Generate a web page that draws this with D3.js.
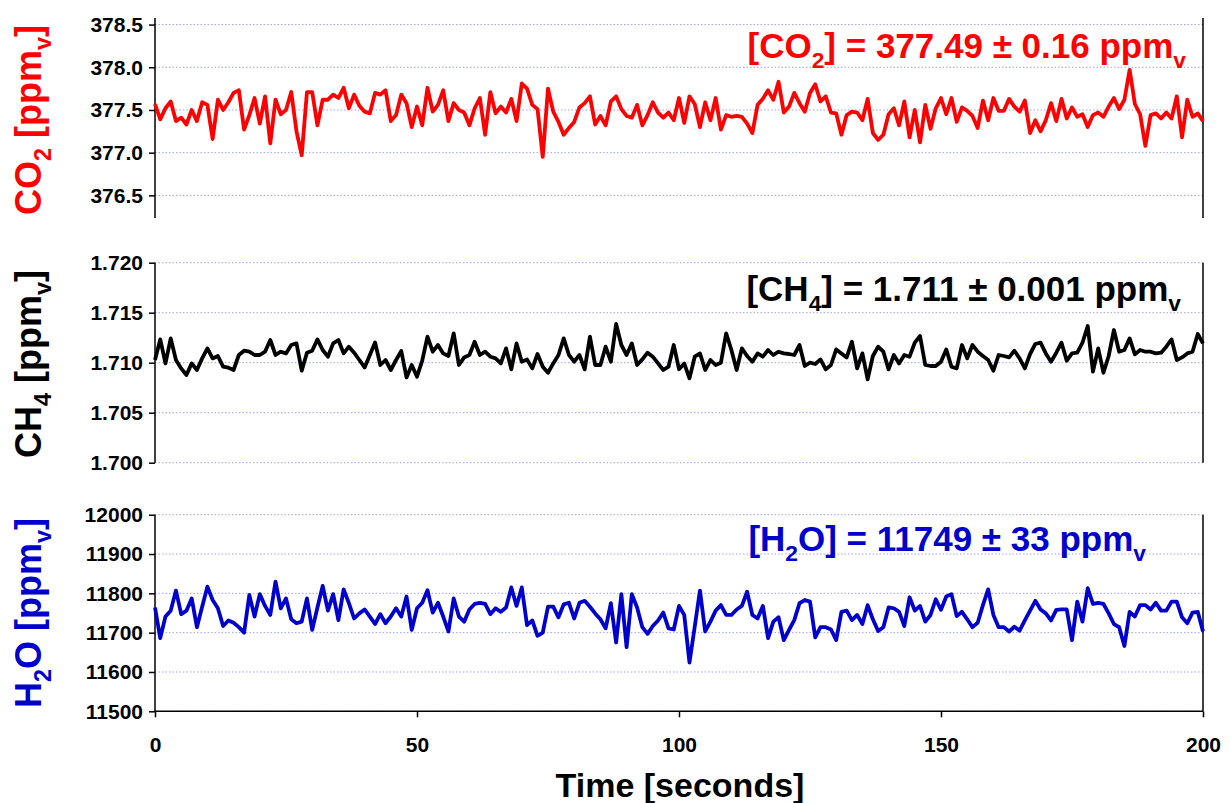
<!DOCTYPE html>
<html><head><meta charset="utf-8">
<script src="https://cdn.jsdelivr.net/npm/d3@7"></script>
<style>body{margin:0;background:#fff}svg{display:block}text{font-family:"Liberation Sans",Arial,sans-serif;font-weight:bold}</style>
</head><body><svg id="c" width="1230" height="803"></svg>
<script>
const time = d3.range(0, 201);
const co2 = [377.57,377.39,377.52,377.60,377.37,377.41,377.33,377.50,377.37,377.59,377.56,377.16,377.62,377.50,377.59,377.70,377.73,377.27,377.44,377.64,377.34,377.66,377.11,377.62,377.45,377.50,377.71,377.25,376.97,377.71,377.71,377.32,377.62,377.62,377.68,377.64,377.76,377.52,377.68,377.55,377.48,377.46,377.70,377.68,377.73,377.37,377.44,377.68,377.58,377.30,377.54,377.32,377.76,377.48,377.56,377.73,377.37,377.58,377.50,377.47,377.32,377.52,377.64,377.21,377.71,377.46,377.54,377.47,377.63,377.37,377.81,377.75,377.56,377.51,376.95,377.75,377.48,377.36,377.21,377.29,377.36,377.53,377.58,377.66,377.33,377.43,377.32,377.60,377.66,377.51,377.43,377.41,377.56,377.32,377.44,377.59,377.47,377.41,377.47,377.38,377.64,377.35,377.66,377.57,377.30,377.59,377.38,377.64,377.27,377.44,377.42,377.43,377.42,377.34,377.23,377.56,377.63,377.73,377.62,377.83,377.47,377.54,377.70,377.58,377.48,377.70,377.80,377.60,377.66,377.47,377.46,377.21,377.44,377.48,377.47,377.38,377.63,377.23,377.15,377.21,377.45,377.52,377.32,377.60,377.18,377.50,377.12,377.56,377.28,377.52,377.64,377.45,377.64,377.36,377.53,377.49,377.43,377.29,377.61,377.38,377.64,377.49,377.49,377.63,377.54,377.48,377.61,377.23,377.38,377.25,377.38,377.58,377.37,377.63,377.40,377.53,377.42,377.45,377.30,377.44,377.47,377.42,377.54,377.64,377.51,377.62,377.97,377.57,377.45,377.08,377.44,377.46,377.40,377.47,377.40,377.66,377.18,377.62,377.42,377.46,377.37];
const ch4 = [1.71027,1.71233,1.70993,1.71243,1.71027,1.70943,1.70877,1.70993,1.70927,1.71043,1.71143,1.71043,1.71067,1.70960,1.70950,1.70927,1.71077,1.71120,1.71110,1.71077,1.71077,1.71110,1.71227,1.71077,1.71110,1.71093,1.71177,1.71193,1.70920,1.71100,1.71120,1.71233,1.71127,1.71060,1.71193,1.71227,1.71093,1.71160,1.71100,1.71027,1.70953,1.71077,1.71203,1.70977,1.71027,1.70927,1.71027,1.71117,1.70853,1.70977,1.70860,1.71020,1.71260,1.71110,1.71177,1.71093,1.71067,1.71293,1.70977,1.71053,1.71077,1.71210,1.71077,1.71110,1.71060,1.71043,1.70993,1.71143,1.70933,1.71193,1.71010,1.71033,1.70943,1.71087,1.70960,1.70900,1.70993,1.71077,1.71243,1.71077,1.71010,1.71077,1.70933,1.71260,1.70977,1.70977,1.71160,1.71010,1.71387,1.71177,1.71077,1.71193,1.70977,1.71033,1.71100,1.71060,1.70993,1.70927,1.70960,1.71177,1.70935,1.70993,1.70843,1.71060,1.71093,1.70927,1.71027,1.70977,1.71000,1.71293,1.71127,1.70927,1.71143,1.71067,1.71010,1.71093,1.71060,1.71127,1.71077,1.71110,1.71093,1.71087,1.71077,1.71177,1.70967,1.71000,1.70987,1.71033,1.70933,1.70977,1.71133,1.71093,1.71053,1.71210,1.70943,1.71093,1.70833,1.71067,1.71160,1.71110,1.70933,1.71077,1.70993,1.71077,1.71060,1.71200,1.71267,1.70977,1.70967,1.70967,1.71010,1.71133,1.70960,1.70943,1.71177,1.71043,1.71177,1.71110,1.71067,1.71027,1.70920,1.71077,1.71067,1.71053,1.71120,1.71043,1.70943,1.71087,1.71187,1.71200,1.71093,1.71010,1.71100,1.71200,1.71020,1.71093,1.71100,1.71200,1.71367,1.70910,1.71143,1.70900,1.71067,1.71327,1.71110,1.71127,1.71243,1.71083,1.71127,1.71110,1.71110,1.71093,1.71100,1.71160,1.71233,1.71027,1.71053,1.71093,1.71110,1.71287,1.71193];
const h2o = [11764,11686,11741,11756,11807,11747,11756,11787,11714,11766,11817,11783,11762,11717,11731,11725,11714,11700,11796,11741,11798,11768,11745,11830,11762,11787,11734,11724,11728,11787,11707,11764,11819,11756,11798,11732,11810,11775,11736,11749,11759,11741,11722,11747,11724,11741,11762,11741,11792,11707,11762,11776,11808,11751,11776,11741,11703,11787,11741,11728,11759,11773,11776,11773,11747,11762,11753,11764,11815,11768,11815,11719,11731,11692,11700,11766,11766,11739,11772,11776,11736,11776,11781,11766,11749,11734,11711,11775,11675,11798,11663,11798,11764,11714,11697,11717,11731,11751,11711,11708,11768,11745,11624,11715,11807,11703,11728,11756,11770,11745,11745,11759,11768,11804,11745,11736,11768,11686,11728,11739,11681,11707,11732,11775,11783,11779,11688,11714,11714,11708,11681,11753,11756,11732,11745,11722,11770,11734,11704,11714,11764,11762,11753,11717,11790,11756,11768,11728,11745,11785,11758,11792,11798,11742,11753,11734,11714,11725,11770,11810,11745,11714,11714,11703,11715,11705,11731,11756,11781,11759,11749,11731,11758,11759,11759,11681,11779,11728,11813,11773,11776,11773,11749,11722,11714,11666,11753,11741,11770,11770,11759,11776,11756,11756,11779,11779,11739,11724,11751,11753,11703];

const xTicks = [0, 50, 100, 150, 200];
const co2Ticks = [376.5, 377.0, 377.5, 378.0, 378.5];
const ch4Ticks = [1.700, 1.705, 1.710, 1.715, 1.720];
const h2oTicks = [11500, 11600, 11700, 11800, 11900, 12000];

const svg = d3.select("#c");
const x = d3.scaleLinear().domain([0, 200]).range([155, 1203]);
const FONT = '"Liberation Sans",Arial,sans-serif';

const panels = [
  {data: co2, ticks: co2Ticks, fmt: d3.format(".1f"), color: "#ff0000", domain: [376.235, 378.577], range: [218, 18],
   title: ["CO", "2", " [ppm", "v", "]"], titleY: 120,
   ann: ["[CO", "2", "] = 377.49 ± 0.16 ppm", "v"], annY: 58, annX: 1186},
  {data: ch4, ticks: ch4Ticks, fmt: d3.format(".3f"), color: "#000000", domain: [1.700, 1.720], range: [462.7, 262.7],
   title: ["CH", "4", " [ppm", "v", "]"], titleY: 364,
   ann: ["[CH", "4", "] = 1.711 ± 0.001 ppm", "v"], annY: 301, annX: 1181},
  {data: h2o, ticks: h2oTicks, fmt: d3.format("d"), color: "#0000cc", domain: [11500, 12000], range: [711.3, 514.7],
   title: ["H", "2", "O [ppm", "v", "]"], titleY: 613,
   ann: ["[H", "2", "O] = 11749 ± 33 ppm", "v"], annY: 551, annX: 1146}
];

function richText(sel, parts, size) {
  parts.forEach((p, i) => {
    const sub = i % 2 === 1;
    sel.append("tspan").attr("font-size", sub ? size * 0.65 : size)
      .attr("dy", sub ? size * 0.28 : (i > 0 ? -size * 0.28 : 0)).text(p);
  });
}

panels.forEach((p, k) => {
  const y = d3.scaleLinear().domain(p.domain).range(p.range);
  const g = svg.append("g");
  g.selectAll("line.grid").data(p.ticks).join("line").attr("class", "grid")
    .attr("x1", x(0)).attr("x2", x(200)).attr("y1", d => y(d)).attr("y2", d => y(d))
    .attr("stroke", "#9f9fff").attr("stroke-width", 1).attr("stroke-dasharray", "1.5,2");
  const ax = g.append("g").attr("transform", `translate(${x(0)},0)`)
    .call(d3.axisLeft(y).tickValues(p.ticks).tickFormat(p.fmt).tickSize(6).tickPadding(6));
  ax.select(".domain").attr("stroke-width", 1.5).attr("d", `M0,${p.range[0]}V${p.range[1]}`);
  ax.selectAll(".tick line").attr("stroke-width", 1.5);
  ax.selectAll(".tick text").attr("font-size", 21).attr("font-weight", "bold").attr("fill", "#000")
    .attr("font-family", FONT);
  g.append("line").attr("x1", x(200)).attr("x2", x(200)).attr("y1", p.range[0]).attr("y2", p.range[1])
    .attr("stroke", "#000").attr("stroke-width", 1.5);
  const line = d3.line().x((d, i) => x(time[i])).y(d => y(d));
  g.append("path").datum(p.data).attr("d", line).attr("fill", "none")
    .attr("stroke", p.color).attr("stroke-width", 3.8).attr("stroke-linejoin", "round");
  const t = g.append("text").attr("transform", `translate(41,${p.titleY}) rotate(-90)`)
    .attr("text-anchor", "middle").attr("fill", p.color);
  richText(t, p.title, 36);
  const a = g.append("text").attr("x", p.annX).attr("y", p.annY).attr("text-anchor", "end").attr("fill", p.color);
  richText(a, p.ann, 35);
  if (k === 2) {
    const xa = svg.append("g").attr("transform", `translate(0,${p.range[0]})`)
      .call(d3.axisBottom(x).tickValues(xTicks).tickSize(6).tickPadding(20));
    xa.select(".domain").attr("stroke-width", 1.5).attr("d", `M${x(0)},0H${x(200)}`);
    xa.selectAll(".tick line").attr("stroke-width", 1.5);
    xa.selectAll(".tick text").attr("font-size", 21).attr("font-weight", "bold").attr("fill", "#000")
      .attr("font-family", FONT);
  }
});

svg.append("text").attr("x", 680).attr("y", 797).attr("text-anchor", "middle")
  .attr("font-size", 34).text("Time [seconds]");
</script></body></html>
